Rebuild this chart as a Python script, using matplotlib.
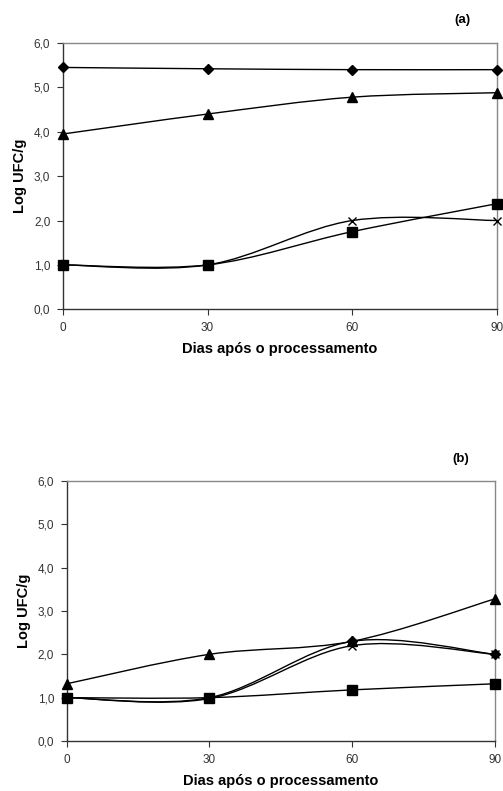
import numpy as np
import matplotlib
matplotlib.use("Agg")
import matplotlib.pyplot as plt
from matplotlib.path import Path
from matplotlib.patches import PathPatch

plt.rcParams['font.family'] = ['Liberation Sans', 'DejaVu Sans']

# data
dias = [0, 30, 60, 90]
ytick_vals = [0, 1, 2, 3, 4, 5, 6]
ytick_labels = ['0,0', '1,0', '2,0', '3,0', '4,0', '5,0', '6,0']

# painel (a)
a_diamond = [5.45, 5.42, 5.40, 5.40]
a_triangle = [3.95, 4.40, 4.78, 4.88]
a_square = [1.0, 1.0, 1.75, 2.38]
a_cross = [1.0, 1.0, 2.0, 2.0]

# painel (b)
b_triangle = [1.32, 2.0, 2.30, 3.28]
b_square = [1.0, 1.0, 1.18, 1.32]
b_cross = [1.0, 0.98, 2.20, 2.0]
b_diamond = [1.0, 1.0, 2.30, 2.0]


def smooth_line(ax, x, y):
    # excel-style smoothed line (bezier through the points)
    pts = np.column_stack([x, y]).astype(float)
    n = len(pts)
    verts = [pts[0]]
    codes = [Path.MOVETO]
    for i in range(n - 1):
        p0 = pts[i - 1] if i > 0 else pts[i]
        p1 = pts[i]
        p2 = pts[i + 1]
        p3 = pts[i + 2] if i + 2 < n else pts[i + 1]
        c1 = p1 + (p2 - p0) / 6.0
        c2 = p2 - (p3 - p1) / 6.0
        verts += [c1, c2, p2]
        codes += [Path.CURVE4] * 3
    ax.add_patch(PathPatch(Path(verts, codes), facecolor='none',
                           edgecolor='black', lw=1.0, zorder=2))


def setup(ax, letter):
    ax.set_xlim(0, 90)
    ax.set_ylim(0, 6)
    ax.set_xticks(dias)
    ax.set_xticklabels([str(d) for d in dias])
    ax.set_yticks(ytick_vals)
    ax.set_yticklabels(ytick_labels)
    ax.tick_params(labelsize=8.5, length=4, width=0.8, colors='#333333', pad=5)
    for s in ['left', 'bottom']:
        ax.spines[s].set_color('#333333')
        ax.spines[s].set_linewidth(1.0)
    for s in ['top', 'right']:
        ax.spines[s].set_color('#888888')
        ax.spines[s].set_linewidth(1.0)
    ax.set_ylabel('Log UFC/g', fontsize=10.5, fontweight='bold', labelpad=5)
    ax.set_xlabel('Dias após o processamento', fontsize=10.5, fontweight='bold', labelpad=6)
    ax.text(0.92, 1.085, letter, transform=ax.transAxes, fontsize=9.5,
            fontweight='bold', ha='center', va='center')


fig = plt.figure(figsize=(5.03, 7.91), dpi=100)
ax1 = fig.add_axes([0.125, 0.609, 0.863, 0.3366])
ax2 = fig.add_axes([0.1326, 0.0632, 0.8514, 0.3288])

series_a = [(a_diamond, 'D', 5.5), (a_triangle, '^', 7), (a_cross, 'x', 6), (a_square, 's', 7)]
for y, m, ms in series_a:
    smooth_line(ax1, dias, y)
    ax1.plot(dias, y, linestyle='none', marker=m, ms=ms, color='black',
             mew=1.0, clip_on=False, zorder=3)
setup(ax1, '(a)')

series_b = [(b_diamond, 'D', 5.5), (b_cross, 'x', 6), (b_triangle, '^', 7), (b_square, 's', 7)]
for y, m, ms in series_b:
    smooth_line(ax2, dias, y)
    ax2.plot(dias, y, linestyle='none', marker=m, ms=ms, color='black',
             mew=1.0, clip_on=False, zorder=3)
setup(ax2, '(b)')

fig.savefig('out.png', dpi=100, facecolor='white')
